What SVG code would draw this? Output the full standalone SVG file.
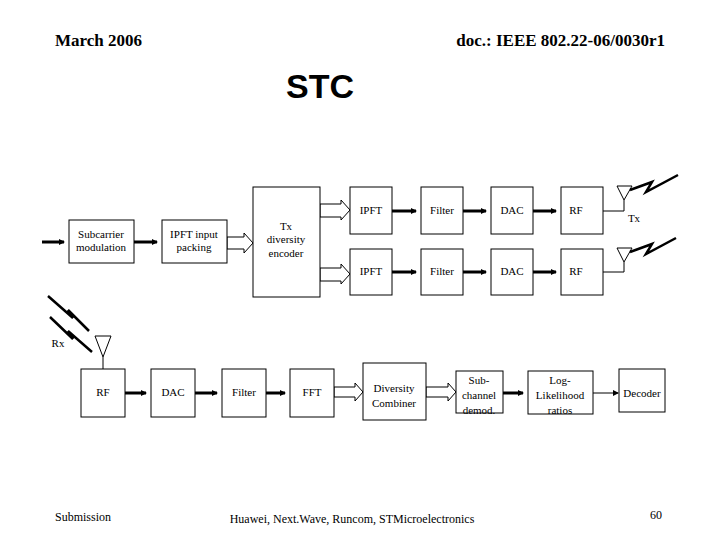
<svg xmlns="http://www.w3.org/2000/svg" width="720" height="540" viewBox="0 0 720 540">
<style>
.b{fill:#fff;stroke:#000;stroke-width:1}
.t{font-family:"Liberation Serif",serif;font-size:11px;fill:#000;text-anchor:middle}
.th{stroke:#000;stroke-width:3;fill:none}
.tn{stroke:#000;stroke-width:1;fill:none}
.h{fill:#fff;stroke:#000;stroke-width:1}
.z{stroke:#000;stroke-width:2.5;fill:none}
</style>
<defs>
<marker id="a" markerWidth="6" markerHeight="6" refX="5" refY="3" orient="auto" markerUnits="userSpaceOnUse"><path d="M0,0L6,3L0,6z"/></marker>
</defs>
<rect width="720" height="540" fill="#fff"/>
<text x="55" y="46" style="font-family:'Liberation Serif',serif;font-size:17px;font-weight:bold">March 2006</text>
<text x="665" y="46" style="font-family:'Liberation Serif',serif;font-size:17px;font-weight:bold;text-anchor:end">doc.: IEEE 802.22-06/0030r1</text>
<text x="320" y="98" style="font-family:'Liberation Sans',sans-serif;font-size:34px;font-weight:bold;text-anchor:middle">STC</text>
<g id="connectors">
<line class="th" x1="42" y1="242" x2="64" y2="242" marker-end="url(#a)"/>
<line class="th" x1="134" y1="242" x2="157" y2="242" marker-end="url(#a)"/>
<path class="h" d="M227,237H244V233L253,243L244,253V249H227z"/>
<path class="h" d="M320,204H341V200L350,210L341,220V217H320z"/>
<path class="h" d="M320,268H341V264L350,274L341,284V281H320z"/>
<line class="th" x1="392" y1="211" x2="416" y2="211" marker-end="url(#a)"/>
<line class="th" x1="463" y1="211" x2="486" y2="211" marker-end="url(#a)"/>
<line class="th" x1="533" y1="211" x2="556" y2="211" marker-end="url(#a)"/>
<line class="th" x1="392" y1="272" x2="416" y2="272" marker-end="url(#a)"/>
<line class="th" x1="463" y1="272" x2="486" y2="272" marker-end="url(#a)"/>
<line class="th" x1="533" y1="272" x2="556" y2="272" marker-end="url(#a)"/>
<path class="tn" d="M603,211H624V200"/>
<path class="tn" d="M603,272H624V262"/>
<path class="tn" d="M103,369V357"/>
<line class="th" x1="125" y1="393" x2="146" y2="393" marker-end="url(#a)"/>
<line class="th" x1="195" y1="393" x2="217" y2="393" marker-end="url(#a)"/>
<line class="th" x1="266" y1="393" x2="285" y2="393" marker-end="url(#a)"/>
<path class="h" d="M334,387H355V383L363,392L355,401V397H334z"/>
<path class="h" d="M426,387H448V383L456,392L448,401V397H426z"/>
<line class="th" x1="503" y1="393" x2="523" y2="393" marker-end="url(#a)"/>
<line class="tn" x1="593" y1="393" x2="618" y2="393" marker-end="url(#a)"/>
</g>
<g id="sub"><rect class="b" x="69" y="220" width="65" height="43"/><text class="t" x="101" y="238">Subcarrier</text><text class="t" x="101" y="251">modulation</text></g>
<g id="ipft"><rect class="b" x="162" y="220" width="65" height="43"/><text class="t" x="194" y="238">IPFT input</text><text class="t" x="194" y="251">packing</text></g>
<g id="enc"><rect class="b" x="253" y="187" width="67" height="110"/><text class="t" x="286" y="230">Tx</text><text class="t" x="286" y="243">diversity</text><text class="t" x="286" y="257">encoder</text></g>
<g id="ifft1"><rect class="b" x="350" y="187" width="42" height="47"/><text class="t" x="371" y="214">IPFT</text></g>
<g id="filt1"><rect class="b" x="421" y="187" width="42" height="47"/><text class="t" x="442" y="214">Filter</text></g>
<g id="dac1"><rect class="b" x="491" y="187" width="42" height="47"/><text class="t" x="512" y="214">DAC</text></g>
<g id="rf1"><rect class="b" x="561" y="187" width="42" height="47"/><text class="t" x="576" y="214">RF</text></g>
<g id="ifft2"><rect class="b" x="350" y="249" width="42" height="46"/><text class="t" x="371" y="275">IPFT</text></g>
<g id="filt2"><rect class="b" x="421" y="249" width="42" height="46"/><text class="t" x="442" y="275">Filter</text></g>
<g id="dac2"><rect class="b" x="491" y="249" width="42" height="46"/><text class="t" x="512" y="275">DAC</text></g>
<g id="rf2"><rect class="b" x="561" y="249" width="42" height="46"/><text class="t" x="576" y="275">RF</text></g>
<g id="txant">
<path class="tn" d="M617,186H632L624,200z"/><path class="z" d="M630,190L652,182L646,192L678,175"/>
<path class="tn" d="M617,248H632L624,262z"/><path class="z" d="M630,252L652,244L646,254L676,238"/>
<text class="t" x="634" y="222">Tx</text>
</g>
<g id="rxant">
<path class="tn" d="M95,336H111L103,357z"/>
<path class="z" d="M48,296L73,318L68,310L89,331"/>
<path class="z" d="M50,317L73,339L68,331L92,352"/>
<text class="t" x="58" y="347">Rx</text>
</g>
<g id="rrf"><rect class="b" x="81" y="369" width="44" height="48"/><text class="t" x="103" y="396">RF</text></g>
<g id="rdac"><rect class="b" x="151" y="369" width="44" height="48"/><text class="t" x="173" y="396">DAC</text></g>
<g id="rfilt"><rect class="b" x="222" y="369" width="44" height="48"/><text class="t" x="244" y="396">Filter</text></g>
<g id="rfft"><rect class="b" x="290" y="369" width="44" height="48"/><text class="t" x="312" y="396">FFT</text></g>
<g id="comb"><rect class="b" x="363" y="363" width="63" height="57"/><text class="t" x="394" y="392">Diversity</text><text class="t" x="394" y="407">Combiner</text></g>
<g id="demod"><rect class="b" x="456" y="371" width="47" height="42"/><text class="t" x="479" y="384">Sub-</text><text class="t" x="479" y="399">channel</text><text class="t" x="479" y="414">demod.</text></g>
<g id="llr"><rect class="b" x="528" y="371" width="65" height="43"/><text class="t" x="560" y="384">Log-</text><text class="t" x="560" y="399">Likelihood</text><text class="t" x="560" y="414">ratios</text></g>
<g id="dec"><rect class="b" x="619" y="369" width="46" height="43"/><text class="t" x="642" y="397">Decoder</text></g>
<text x="55" y="521" style="font-family:'Liberation Serif',serif;font-size:12px">Submission</text>
<text x="352" y="523" class="t" style="font-size:12px">Huawei, Next.Wave, Runcom, STMicroelectronics</text>
<text x="656" y="519" class="t" style="font-size:12px">60</text>
</svg>
